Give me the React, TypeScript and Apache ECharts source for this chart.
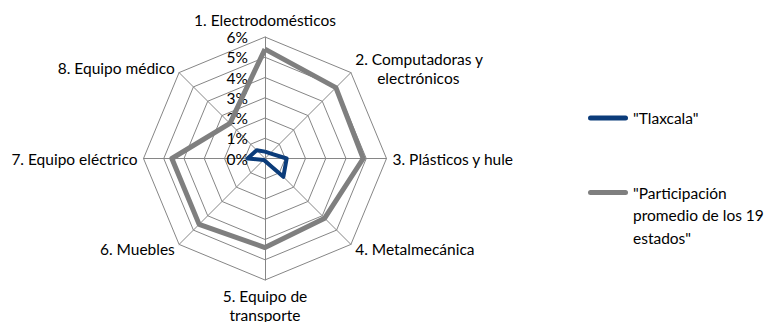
import React, { useEffect, useRef } from "react";
import * as echarts from "echarts";

const categories = [
  "1. Electrodomésticos",
  "2. Computadoras y\nelectrónicos",
  "3. Plásticos y hule",
  "4. Metalmecánica",
  "5. Equipo de\ntransporte",
  "6. Muebles",
  "7. Equipo eléctrico",
  "8. Equipo médico",
];
const tlaxcala = [0.34, 0.36, 1.07, 1.28, 0.12, 0.1, 0.86, 0.58];
const promedio = [5.4, 4.95, 4.85, 4.17, 4.4, 4.6, 4.6, 2.45];
const seriesNames = ['"Tlaxcala"', '"Participación promedio de los 19 estados"'];
const legendLabels = ['"Tlaxcala"', '\n\n"Participación\npromedio de los 19\nestados"'];
const axisMax = 6;

// ECharts radar runs counter-clockwise; the reference runs clockwise.
const order = [0, 7, 6, 5, 4, 3, 2, 1];

const FONT = "Lato";
const FS = 15.5;
const GRID = "#868686";

export default function App() {
  const ref = useRef<HTMLDivElement>(null);
  useEffect(() => {
    document.body.style.margin = "0";
    const chart = echarts.init(ref.current!, null, { renderer: "svg" });
    const indicator = order.map((i, k) => {
      const ind: any = { name: categories[i], max: axisMax, min: 0 };
      if (k === 0) {
        ind.axisLabel = {
          show: true,
          showMinLabel: true,
          formatter: "{value}%",
          margin: 17,
          color: "#000",
          fontSize: FS,
          fontFamily: FONT,
        };
      }
      return ind;
    });
    const legendIcon = "path://M2.5,0 H37.5 A2.5,2.5 0 0 1 37.5,5 H2.5 A2.5,2.5 0 0 1 2.5,0 Z";
    chart.setOption({
      animation: false,
      legend: [
        {
          data: [seriesNames[0]],
          orient: "vertical",
          left: 588,
          top: 109,
          padding: 0,
          itemWidth: 40,
          itemHeight: 5,
          icon: legendIcon,
          selectedMode: false,
          formatter: () => legendLabels[0],
          textStyle: { fontFamily: FONT, fontSize: FS, color: "#000", lineHeight: 18 },
        },
        {
          data: [seriesNames[1]],
          orient: "vertical",
          left: 588,
          top: 136.25,
          padding: 0,
          itemWidth: 40,
          itemHeight: 5,
          icon: legendIcon,
          selectedMode: false,
          formatter: () => legendLabels[1],
          textStyle: {
            fontFamily: FONT,
            fontSize: FS,
            color: "#000",
            lineHeight: 22.5,
          },
        },
      ],
      radar: {
        center: [265, 158.5],
        radius: 121.5,
        shape: "polygon",
        splitNumber: 6,
        startAngle: 90,
        indicator,
        nameGap: 6,
        axisName: {
          color: "#000",
          fontFamily: FONT,
          fontSize: FS,
          lineHeight: 19,
          formatter: (name: string) => {
            const parts = name.split("\n");
            if (parts.length === 2 && name.startsWith("2.")) {
              return "{a|" + parts[0] + "}\n{b|" + parts[1] + "}";
            }
            return name;
          },
          rich: {
            a: { color: "#000", fontFamily: FONT, fontSize: FS, lineHeight: 19 },
            b: { color: "#000", fontFamily: FONT, fontSize: FS, lineHeight: 19, padding: [0, 0, 0, 22] },
          },
        },
        axisLine: { lineStyle: { color: GRID, width: 1 } },
        splitLine: { lineStyle: { color: GRID, width: 1 } },
        splitArea: { show: false },
        axisTick: { show: false },
        axisLabel: { show: false },
      },
      series: [
        {
          type: "radar",
          symbol: "none",
          data: [
            {
              name: seriesNames[0],
              value: order.map((i) => tlaxcala[i]),
              lineStyle: { color: "#0B3C7A", width: 4 },
              itemStyle: { color: "#0B3C7A" },
            },
            {
              name: seriesNames[1],
              value: order.map((i) => promedio[i]),
              lineStyle: { color: "#7F7F7F", width: 5 },
              itemStyle: { color: "#7F7F7F" },
            },
          ],
        },
      ],
    });
    return () => chart.dispose();
  }, []);
  return <div ref={ref} style={{ width: 777, height: 322 }} />;
}
